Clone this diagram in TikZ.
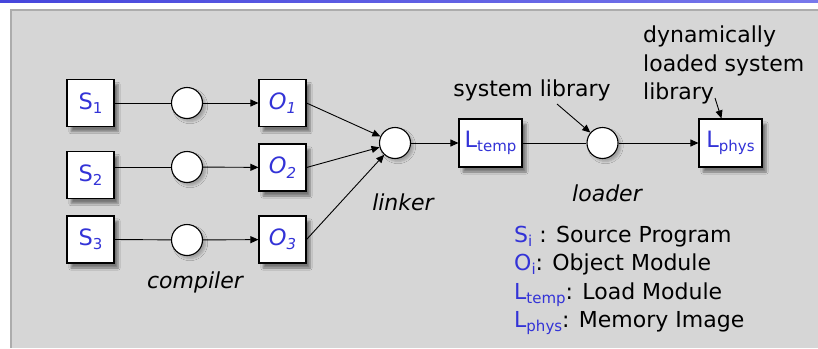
\documentclass[tikz,border=0pt]{standalone}
\usepackage{fontspec}
\setmainfont{DejaVu Sans}
\usetikzlibrary{arrows.meta,shadows.blur,calc}
\definecolor{lblue}{RGB}{51,51,215}
\definecolor{panel}{RGB}{214,214,214}
\definecolor{pborder}{RGB}{172,172,172}
\newcommand\lsub[1]{\raisebox{-4.5pt}{\fontsize{15}{15}\selectfont #1}}
\begin{document}
\begin{tikzpicture}[x=1pt,y=-1pt,
  shad/.style={blur shadow={shadow xshift=4pt,shadow yshift=-5pt,shadow opacity=45,shadow blur steps=6}},
  cshad/.style={blur shadow={shadow xshift=3pt,shadow yshift=-3pt,shadow opacity=25,shadow blur steps=5}},
  box/.style={draw,fill=white,line width=1.1pt,minimum width=47pt,minimum height=47pt,inner sep=0pt,text=lblue,font=\fontsize{22.5}{26}\selectfont,shad},
  wbox/.style={box,minimum width=63pt,minimum height=48pt},
  proc/.style={circle,draw,fill=white,line width=1.1pt,minimum size=31pt,inner sep=0pt,cshad},
  lbl/.style={font=\fontsize{22}{28.5}\selectfont,inner sep=0pt},
  ilbl/.style={lbl,font=\fontsize{22}{28.5}\selectfont\itshape},
  arr/.style={-{Triangle[length=8pt,width=7pt]},line width=0.9pt},
  ln/.style={line width=0.9pt}]
% background
\fill[white] (0,0) rectangle (818,348);
\shade[left color={rgb,255:red,70;green,70;blue,220}, right color={rgb,255:red,120;green,120;blue,235}] (0,0) rectangle (818,2.5);
\fill[pborder] (10,9) rectangle (818,348);
\fill[panel] (12,11) rectangle (818,348);
\useasboundingbox (0,0) rectangle (818,348);

% nodes
\node[box] (S1) at (90.5,103) {S\lsub{1}};
\node[box] (S2) at (90.5,175) {S\lsub{2}};
\node[box] (S3) at (90.5,239.5) {S\lsub{3}};
\node[proc] (c1) at (187,103) {};
\node[proc] (c2) at (187,167) {};
\node[proc] (c3) at (187,240) {};
\node[box] (O1) at (282.5,103) {\itshape O\lsub{1}};
\node[box] (O2) at (282.5,167.5) {\itshape O\lsub{2}};
\node[box] (O3) at (282.5,239.5) {\itshape O\lsub{3}};
\node[proc] (lk) at (395,143) {};
\node[wbox] (Lt) at (490.5,143) {L\lsub{temp}};
\node[proc] (ld) at (602.5,143) {};
\node[wbox] (Lp) at (730.5,143) {L\lsub{phys}};

% labels
\node[ilbl] (compiler) at (195,282) {compiler};
\node[ilbl] (linker) at (403,202) {linker};
\node[ilbl] (loader) at (607,193) {loader};
\node[lbl] (syslib) at (532,90) {system library};
\node[lbl,align=left,anchor=north west] (dyn) at (643,26) {dynamically\\loaded system\\library};
\coordinate (syslibend) at (557,104);
\coordinate (dynend) at (715,98);
\coordinate (Lptop) at ($(Lp.north west)+(23,0)$);

% legend
\node[lbl,anchor=base west] (leg1) at (514,242) {\textcolor{lblue}{S\lsub{i}} : Source Program};
\node[lbl,anchor=base west] (leg2) at (514,270) {\textcolor{lblue}{O\lsub{i}}: Object Module};
\node[lbl,anchor=base west] (leg3) at (514,299) {\textcolor{lblue}{L\lsub{temp}}: Load Module};
\node[lbl,anchor=base west] (leg4) at (514,327) {\textcolor{lblue}{L\lsub{phys}}: Memory Image};

% connectors
\draw[ln] (S1.east) -- (c1);
\draw[ln] (S2.east |- c2) -- (c2);
\draw[ln] (S3.east) -- (c3);
\draw[arr] (c1) -- (O1);
\draw[arr] (c2) -- (O2);
\draw[arr] (c3) -- (O3);
\draw[arr] (O1.east) -- (lk);
\draw[arr] (O2.east) -- (lk);
\draw[arr] (O3.east) -- (lk);
\draw[arr] (lk) -- (Lt);
\draw[ln] (Lt) -- (ld);
\draw[arr] (ld) -- (Lp);
\draw[arr] (syslibend) -- (ld);
\draw[arr] (dynend) -- (Lptop);
\end{tikzpicture}
\end{document}
